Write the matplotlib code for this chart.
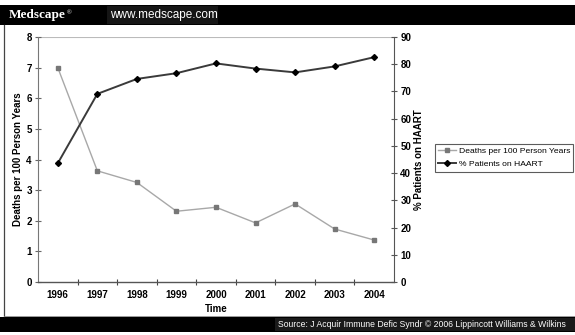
import matplotlib
matplotlib.use("Agg")
import matplotlib.pyplot as plt
from matplotlib.patches import Rectangle
from matplotlib.lines import Line2D

# Data
years = ["1996", "1997", "1998", "1999", "2000", "2001", "2002", "2003", "2004"]
deaths = [7.0, 3.63, 3.25, 2.31, 2.44, 1.93, 2.55, 1.73, 1.37]
haart = [43.6, 69.1, 74.6, 76.7, 80.3, 78.4, 77.0, 79.2, 82.6]
left_ticks = list(range(0, 9))
right_ticks = list(range(0, 91, 10))

W, H = 575, 335
plt.rcParams["font.family"] = ["Liberation Sans", "DejaVu Sans"]

fig = plt.figure(figsize=(W / 100, H / 100), dpi=100)
fig.patch.set_facecolor("white")


def fx(px):
    return px / W


def fy(py):
    return 1 - py / H


# Header banner
fig.patches.append(Rectangle((0, fy(25)), 1, 20 / H, transform=fig.transFigure,
                             facecolor="black", edgecolor="none", zorder=0))
fig.patches.append(Rectangle((fx(107), fy(24)), fx(111), 18 / H, transform=fig.transFigure,
                             facecolor="#151515", edgecolor="none", zorder=0))
fig.text(fx(9), fy(15), "Medscape", color="white", fontsize=9.5, fontweight="bold",
         family="Liberation Serif", va="center", ha="left")
fig.text(fx(67), fy(13), "\u00ae", color="white", fontsize=4.5, va="center", ha="left")
fig.text(fx(110), fy(15), "www.medscape.com", color="white", fontsize=8.5,
         va="center", ha="left")

# Footer banner
fig.patches.append(Rectangle((0, fy(332)), 1, 15 / H, transform=fig.transFigure,
                             facecolor="black", edgecolor="none", zorder=0))
fig.patches.append(Rectangle((fx(275), fy(331)), 1, 13 / H, transform=fig.transFigure,
                             facecolor="#1a1a1a", edgecolor="none", zorder=0))
fig.text(fx(278), fy(324.5), "Source: J Acquir Immune Defic Syndr \u00a9 2006 Lippincott Williams & Wilkins",
         color="white", fontsize=6.2, va="center", ha="left")

# Chart frame
fig.lines.append(Line2D([fx(4), fx(4)], [fy(25), fy(316)], transform=fig.transFigure,
                        color="#444444", lw=0.9))
fig.lines.append(Line2D([fx(4), 1], [fy(316), fy(316)], transform=fig.transFigure,
                        color="#888888", lw=0.6))

# Axes
ax = fig.add_axes([fx(38), fy(282), fx(356), 245 / H])
x = list(range(len(years)))
ax.set_xlim(-0.5, len(years) - 0.5)
ax.set_ylim(0, 8)
ax.axhline(8, color="#bbbbbb", lw=0.8, zorder=1)

ln1, = ax.plot(x, deaths, color="#a8a8a8", lw=1.0, marker="s", markersize=2.5,
               markerfacecolor="#777777", markeredgecolor="#777777", zorder=3,
               label="Deaths per 100 Person Years")

ax2 = ax.twinx()
ax2.set_ylim(0, 90)
ln2, = ax2.plot(x, haart, color="#3a3a3a", lw=1.4, marker="D", markersize=3,
                markerfacecolor="black", markeredgecolor="black", zorder=3,
                label="% Patients on HAART")

for a in (ax, ax2):
    for s in a.spines.values():
        s.set_visible(False)

ax.spines["left"].set_visible(True)
ax.spines["left"].set_color("#777777")
ax.spines["bottom"].set_visible(True)
ax.spines["bottom"].set_color("#555555")
ax.spines["bottom"].set_linewidth(1.0)
ax2.spines["right"].set_visible(True)
ax2.spines["right"].set_color("#555555")

ax.set_yticks(left_ticks)
ax.set_yticklabels([str(t) for t in left_ticks], fontsize=7, fontweight="bold")
ax2.set_yticks(right_ticks)
ax2.set_yticklabels([str(t) for t in right_ticks], fontsize=7, fontweight="bold")

ax.set_xticks(x)
ax.set_xticklabels(years, fontsize=7, fontweight="bold")
ax.set_xticks([i + 0.5 for i in x[:-1]], minor=True)
ax.tick_params(axis="x", which="major", length=0, pad=6)
ax.tick_params(axis="x", which="minor", direction="inout", length=5, width=0.8, color="#444444")
ax.tick_params(axis="y", direction="inout", length=5, width=0.8, color="#666666", pad=2)
ax2.tick_params(axis="y", direction="inout", length=5, width=0.8, color="#555555", pad=2)

ax.set_ylabel("Deaths per 100 Person Years", fontsize=7, fontweight="bold", labelpad=2)
ax2.set_ylabel("% Patients on HAART", fontsize=7, fontweight="bold", labelpad=2)
ax.set_xlabel("Time", fontsize=7, fontweight="bold", labelpad=3)

leg = fig.legend(handles=[ln1, ln2], loc="upper left",
                 bbox_to_anchor=(fx(435), fy(144)), bbox_transform=fig.transFigure,
                 fontsize=6.1, frameon=True, fancybox=False, borderaxespad=0,
                 handlelength=2.1, handletextpad=0.3, borderpad=0.4, labelspacing=0.6)
leg.get_frame().set_edgecolor("#333333")
leg.get_frame().set_linewidth(0.8)

fig.savefig("out.png", dpi=100)
